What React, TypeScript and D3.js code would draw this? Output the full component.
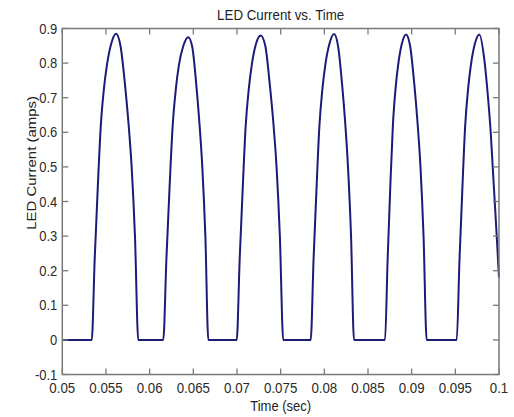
import React from 'react';
import * as d3 from 'd3';

// x ticks (seconds) and y ticks (amps)
const xTicks = [0.05, 0.055, 0.06, 0.065, 0.07, 0.075, 0.08, 0.085, 0.09, 0.095, 0.1];
const xTickLabels = ['0.05', '0.055', '0.06', '0.065', '0.07', '0.075', '0.08', '0.085', '0.09', '0.095', '0.1'];
const yTicks = [-0.1, 0, 0.1, 0.2, 0.3, 0.4, 0.5, 0.6, 0.7, 0.8, 0.9];
const yTickLabels = ['-0.1', '0', '0.1', '0.2', '0.3', '0.4', '0.5', '0.6', '0.7', '0.8', '0.9'];

// pulses: time (sec) and LED current (amps)
const startTime = [0.05];
const startCurrent = [0];

const pulse1Time = [0.05337, 0.05371, 0.05406, 0.05441, 0.05476, 0.05511, 0.05559, 0.05615, 0.05666, 0.05717, 0.05755, 0.05794, 0.05832, 0.0587];
const pulse1Current = [0, 0.234, 0.44, 0.62, 0.725, 0.794, 0.855, 0.885, 0.85, 0.74, 0.635, 0.5, 0.3, 0];

const pulse2Time = [0.06156, 0.06192, 0.06228, 0.06264, 0.063, 0.06335, 0.06386, 0.06443, 0.06489, 0.06535, 0.06569, 0.06603, 0.06638, 0.06672];
const pulse2Current = [0, 0.234, 0.44, 0.62, 0.725, 0.794, 0.85, 0.875, 0.845, 0.735, 0.63, 0.5, 0.3, 0];

const pulse3Time = [0.06997, 0.07031, 0.07066, 0.071, 0.07135, 0.07169, 0.07217, 0.07272, 0.07324, 0.07375, 0.07414, 0.07453, 0.07491, 0.0753];
const pulse3Current = [0, 0.234, 0.44, 0.62, 0.725, 0.794, 0.855, 0.88, 0.85, 0.74, 0.635, 0.5, 0.3, 0];

const pulse4Time = [0.07844, 0.07877, 0.07911, 0.07944, 0.07978, 0.08011, 0.08058, 0.08111, 0.08157, 0.08203, 0.08237, 0.08271, 0.08306, 0.0834];
const pulse4Current = [0, 0.234, 0.44, 0.62, 0.725, 0.794, 0.855, 0.884, 0.85, 0.74, 0.635, 0.5, 0.3, 0];

const pulse5Time = [0.08695, 0.08725, 0.08755, 0.08785, 0.08815, 0.08845, 0.08887, 0.08935, 0.08982, 0.0903, 0.09065, 0.09101, 0.09136, 0.09172];
const pulse5Current = [0, 0.234, 0.44, 0.62, 0.725, 0.794, 0.855, 0.883, 0.85, 0.74, 0.635, 0.5, 0.3, 0];

const pulse6Time = [0.09516, 0.09548, 0.09581, 0.09613, 0.09646, 0.09678, 0.09723, 0.09775, 0.09832, 0.09871, 0.09905, 0.09928, 0.09974, 0.1];
const pulse6Current = [0, 0.234, 0.44, 0.62, 0.725, 0.794, 0.855, 0.883, 0.81, 0.71, 0.6, 0.5, 0.3, 0.18];

const timeSec = [...startTime, ...pulse1Time, ...pulse2Time, ...pulse3Time, ...pulse4Time, ...pulse5Time, ...pulse6Time];
const currentAmps = [...startCurrent, ...pulse1Current, ...pulse2Current, ...pulse3Current, ...pulse4Current, ...pulse5Current, ...pulse6Current];

const W = 514, H = 417;
const left = 62.3, right = 499, top = 28.5, bottom = 374.5;
const tickLen = 6;
const frameColor = '#7a7a7a';
const lineColor = '#1b1b78';
const font = 'Liberation Sans, Arial, sans-serif';
const stretch = 1.15; // the picture's text looks a bit taller than wide

const App = () => {
    const x = d3.scaleLinear().domain([0.05, 0.1]).range([left, right]);
    const y = d3.scaleLinear().domain([-0.1, 0.9]).range([bottom, top]);

    const points: [number, number][] = timeSec.map((t, i) => [t, currentAmps[i]]);
    const line = d3.line<[number, number]>()
        .x(d => x(d[0]))
        .y(d => y(d[1]))
        .curve(d3.curveMonotoneX);

    return (
        <svg width={W} height={H} style={{ position: 'fixed', left: 0, top: 0, background: '#fff' }}>
            <rect x={0} y={0} width={W} height={H} fill="#fff" />

            {/* data */}
            <path d={line(points) || ''} fill="none" stroke={lineColor} strokeWidth={2} strokeLinejoin="round" />

            {/* frame */}
            <rect x={left} y={top} width={right - left} height={bottom - top} fill="none" stroke={frameColor} strokeWidth={1.5} />

            {xTicks.map((t, i) => (
                <g key={'x' + i}>
                    <line x1={x(t)} x2={x(t)} y1={bottom} y2={bottom - tickLen} stroke={frameColor} strokeWidth={1.3} />
                    <line x1={x(t)} x2={x(t)} y1={top} y2={top + tickLen} stroke={frameColor} strokeWidth={1.3} />
                    <text transform={`translate(${x(t)},${bottom + 18}) scale(1,${stretch})`} textAnchor="middle"
                        fontFamily={font} fontSize={13.3} fill="#2a2a2a">{xTickLabels[i]}</text>
                </g>
            ))}

            {yTicks.map((v, i) => (
                <g key={'y' + i}>
                    <line x1={left} x2={left + tickLen} y1={y(v)} y2={y(v)} stroke={frameColor} strokeWidth={1.3} />
                    <line x1={right} x2={right - tickLen} y1={y(v)} y2={y(v)} stroke={frameColor} strokeWidth={1.3} />
                    <text transform={`translate(${left - 5},${y(v) + 5}) scale(1,${stretch})`} textAnchor="end"
                        fontFamily={font} fontSize={13} fill="#2a2a2a">{yTickLabels[i]}</text>
                </g>
            ))}

            <text transform={`translate(${(left + right) / 2},${top - 9}) scale(1,${stretch})`} textAnchor="middle"
                fontFamily={font} fontSize={13.3} fill="#222">LED Current vs. Time</text>

            <text transform={`translate(${(left + right) / 2},${H - 6}) scale(1,${stretch})`} textAnchor="middle"
                fontFamily={font} fontSize={13} fill="#222">Time (sec)</text>

            <text transform={`translate(36,${y(0.5) - 4}) rotate(-90) scale(${stretch},1)`} textAnchor="middle"
                fontFamily={font} fontSize={13} fill="#222">LED Current (amps)</text>
        </svg>
    );
};

export default App;
